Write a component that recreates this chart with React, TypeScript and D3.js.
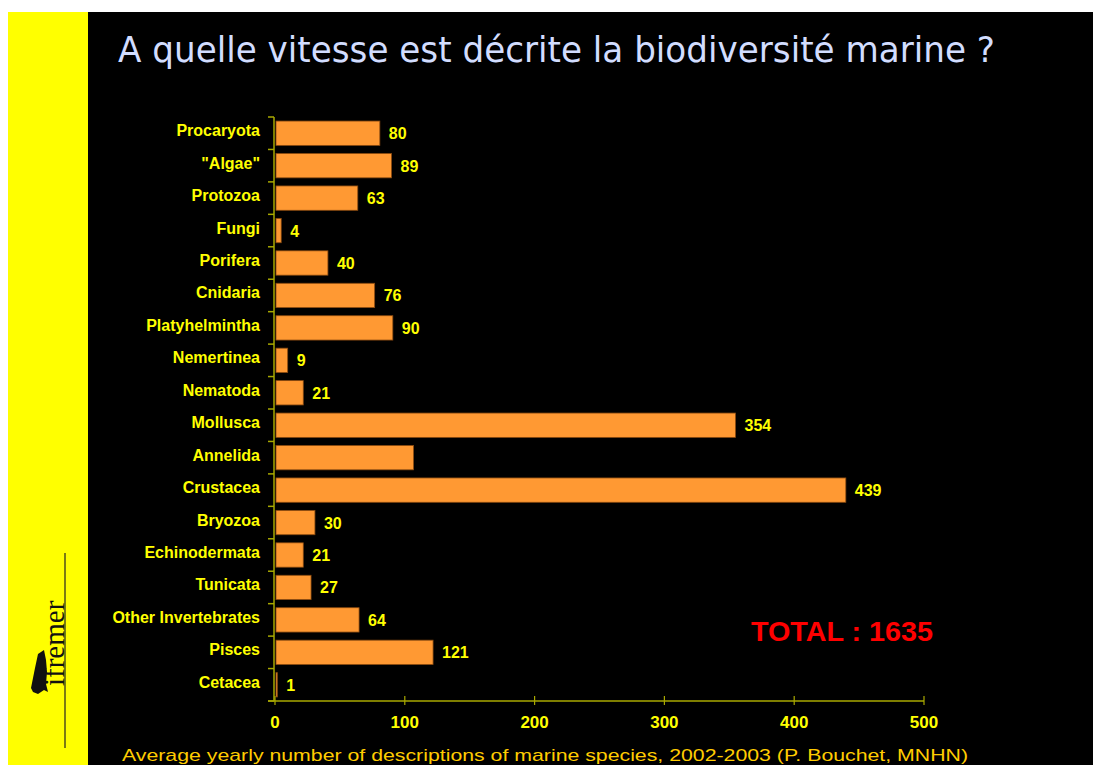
import React from "react";
import * as d3 from "d3";

const categories = [
  "Procaryota", "\"Algae\"", "Protozoa", "Fungi", "Porifera", "Cnidaria",
  "Platyhelmintha", "Nemertinea", "Nematoda", "Mollusca", "Annelida",
  "Crustacea", "Bryozoa", "Echinodermata", "Tunicata", "Other Invertebrates",
  "Pisces", "Cetacea",
];
const values = [80, 89, 63, 4, 40, 76, 90, 9, 21, 354, 106, 439, 30, 21, 27, 64, 121, 1];
const showLabel = [true, true, true, true, true, true, true, true, true, true, false, true, true, true, true, true, true, true];
const xTicks = [0, 100, 200, 300, 400, 500];
const title = "A quelle vitesse est décrite la biodiversité marine ?";
const caption = "Average yearly number of descriptions of marine species, 2002-2003 (P. Bouchet, MNHN)";
const totalText = "TOTAL : 1635";

const W = 1093, H = 765;
const axisColor = "#a8a800";
const FONT = "'Liberation Sans', Arial, sans-serif";

export default function App() {
  const x = d3.scaleLinear().domain([0, 500]).range([275, 924]);
  const y = d3.scaleBand<string>().domain(categories).range([117, 701]).paddingInner(0.25).paddingOuter(0.125);
  const step = y.step();
  const boundaries = d3.range(categories.length + 1).map((i) => 117 + i * step);

  return (
    <svg width={W} height={H} style={{ position: "absolute", left: 0, top: 0 }}>
      <rect x={0} y={0} width={W} height={H} fill="#ffffff" />
      <rect x={8} y={12} width={80} height={H - 12} fill="#ffff00" />
      <rect x={88} y={12} width={W - 88} height={H - 12} fill="#000000" />

      {/* logo */}
      <line x1={65} x2={65} y1={553} y2={748} stroke="#222" strokeWidth={1.2} />
      <text transform="translate(64,686) rotate(-90)" fontFamily="'Liberation Serif', 'DejaVu Serif', serif" fontSize={29} fill="#111">ifremer</text>
      <path d="M38,654 L44,650 L46,660 L47,672 L46,684 L48,692 L44,690 L38,694 L33,692 L31,688 L33,678 L35,668 Z" fill="#111" />

      {/* title */}
      <text x={118} y={62} fontFamily="Tahoma, 'DejaVu Sans', sans-serif" fontSize={36} fill="#d2ddff" textLength={877} lengthAdjust="spacingAndGlyphs">{title}</text>

      {/* bars */}
      {categories.map((c, i) => (
        <rect key={c} x={x(0) + 1} y={y(c)!} width={Math.max(1, x(values[i]) - x(0))} height={y.bandwidth()} fill="#ff9933" stroke="#8a4a10" strokeWidth={0.8} />
      ))}

      {/* value labels */}
      {categories.map((c, i) => showLabel[i] ? (
        <text key={c} x={x(values[i]) + 10} y={y(c)! + y.bandwidth() / 2 + 6} fontFamily={FONT} fontWeight="bold" fontSize={16} fill="#ffff00">{values[i]}</text>
      ) : null)}

      {/* category labels */}
      {categories.map((c) => (
        <text key={c} x={260} y={y(c)! + y.bandwidth() / 2 + 3} textAnchor="end" fontFamily={FONT} fontWeight="bold" fontSize={16} fill="#ffff00">{c}</text>
      ))}

      {/* y axis */}
      <line x1={274} x2={274} y1={117} y2={701} stroke={axisColor} strokeWidth={1.5} />
      {boundaries.map((b, i) => (
        <line key={i} x1={268} x2={274} y1={b} y2={b} stroke={axisColor} strokeWidth={1.5} />
      ))}

      {/* x axis */}
      <line x1={268} x2={x(500)} y1={701} y2={701} stroke={axisColor} strokeWidth={1.5} />
      {xTicks.map((t) => (
        <g key={t}>
          <line x1={x(t)} x2={x(t)} y1={696} y2={705} stroke={axisColor} strokeWidth={1.2} />
          <text x={x(t)} y={728} textAnchor="middle" fontFamily={FONT} fontWeight="bold" fontSize={17} fill="#ffff00">{t}</text>
        </g>
      ))}

      <text x={751} y={641} fontFamily={FONT} fontWeight="bold" fontSize={28} fill="#ff0000" textLength={182} lengthAdjust="spacingAndGlyphs">{totalText}</text>

      <text x={122} y={761} fontFamily={FONT} fontSize={17} fill="#ffcc00" textLength={846} lengthAdjust="spacingAndGlyphs">{caption}</text>
    </svg>
  );
}
